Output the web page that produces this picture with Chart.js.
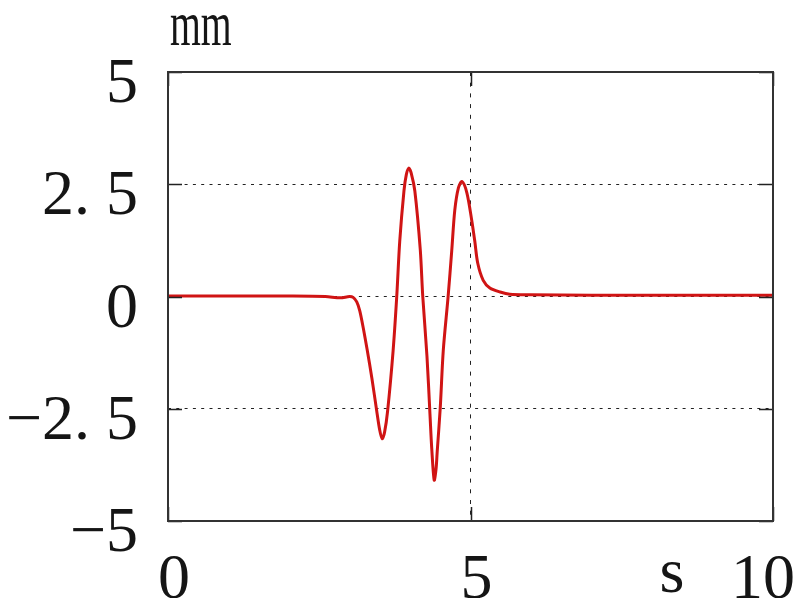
<!DOCTYPE html>
<html>
<head>
<meta charset="utf-8">
<script src="https://cdn.jsdelivr.net/npm/chart.js@4.4.1/dist/chart.umd.min.js"></script>
<style>
  html, body { margin: 0; padding: 0; background: #fff; }
  #wrap { width: 803px; height: 598px; }
</style>
</head>
<body>
<div id="wrap"><canvas id="c" width="803" height="598"></canvas></div>
<script>
// Displacement record (mm) against time (s)
const timeS = [0, 1.0, 2.0, 2.6, 2.85, 3.0, 3.06, 3.12, 3.17, 3.23, 3.29, 3.37, 3.45, 3.50, 3.54, 3.58, 3.63,
  3.72, 3.78, 3.83, 3.90, 3.94, 3.98, 4.02, 4.08, 4.17, 4.21, 4.28, 4.33, 4.36, 4.40, 4.43, 4.45, 4.50,
  4.55, 4.63, 4.69, 4.74, 4.80, 4.86, 4.94, 5.02, 5.07, 5.12, 5.21, 5.32, 5.49, 5.65, 6.0, 7.0, 8.0, 9.0, 10.0];
const displacementMm = [0.01, 0.01, 0.01, 0.0, -0.03, 0.0, -0.02, -0.12, -0.32, -0.72, -1.17, -1.82, -2.55, -2.98, -3.17, -3.02, -2.55,
  -1.22, -0.02, 1.22, 2.35, 2.72, 2.86, 2.75, 2.35, 1.04, 0.02, -1.32, -2.62, -3.40, -4.09, -3.85, -3.45, -2.48,
  -1.20, 0.0, 1.02, 1.92, 2.42, 2.56, 2.31, 1.70, 1.24, 0.74, 0.36, 0.19, 0.10, 0.05, 0.04, 0.03, 0.03, 0.03, 0.03];

// Axis ticks and labels
const xTicks = [0, 5, 10];
const xTickLabels = ['0', '5', '10'];
const yTicks = [-5, -2.5, 0, 2.5, 5];
const yTickLabels = ['\u22125', '\u22122. 5', '0', '2. 5', '5'];
const xTitle = 's';
const yTitle = 'mm';

const FONT = '64px "Liberation Serif", "Times New Roman", serif';

const points = timeS.map((t, i) => ({ x: t, y: displacementMm[i] }));

// Frame, inward tick marks, and all axis text
const framePlugin = {
  id: 'frame',
  afterDatasetsDraw(chart) {
    const { ctx, chartArea: a, scales: { x, y }, width } = chart;
    ctx.save();
    // inward tick marks on every side
    ctx.strokeStyle = '#222';
    ctx.lineWidth = 1.5;
    const tl = 14;
    yTicks.forEach(v => {
      const py = Math.round(y.getPixelForValue(v)) + 0.5;
      ctx.beginPath();
      ctx.moveTo(a.left, py); ctx.lineTo(a.left + tl, py);
      ctx.moveTo(a.right, py); ctx.lineTo(a.right - tl, py);
      ctx.stroke();
    });
    xTicks.forEach(v => {
      const px = Math.round(x.getPixelForValue(v)) + 0.5;
      ctx.beginPath();
      ctx.moveTo(px, a.top); ctx.lineTo(px, a.top + tl);
      ctx.moveTo(px, a.bottom); ctx.lineTo(px, a.bottom - tl);
      ctx.stroke();
    });
    // box
    ctx.lineWidth = 2;
    ctx.strokeStyle = '#333';
    ctx.strokeRect(a.left, a.top, a.right - a.left, a.bottom - a.top);

    // labels
    ctx.fillStyle = '#151515';
    ctx.font = FONT;
    ctx.textBaseline = 'alphabetic';
    ctx.textAlign = 'right';
    yTicks.forEach((v, i) => {
      ctx.fillText(yTickLabels[i], a.left - 30, y.getPixelForValue(v) + 30);
    });
    ctx.textAlign = 'center';
    xTicks.forEach((v, i) => {
      const half = ctx.measureText(xTickLabels[i]).width / 2;
      const cx = Math.min(x.getPixelForValue(v) + 6, width - 8 - half);
      ctx.fillText(xTickLabels[i], cx, a.bottom + 77);
    });
    ctx.fillText(xTitle, a.left + 504, a.bottom + 71);
    // unit label, set in a narrower face
    ctx.save();
    ctx.translate(a.left + 2, a.top - 27);
    ctx.scale(0.62, 1);
    ctx.textAlign = 'left';
    ctx.fillText(yTitle, 0, 0);
    ctx.restore();
    ctx.restore();
  }
};

new Chart(document.getElementById('c'), {
  type: 'line',
  data: {
    datasets: [{
      data: points,
      borderColor: '#d01414',
      borderWidth: 3,
      pointRadius: 0,
      tension: 0.3,
      fill: false
    }]
  },
  options: {
    responsive: false,
    animation: false,
    layout: { padding: { left: 168, top: 72, right: 30, bottom: 77 } },
    plugins: { legend: { display: false }, tooltip: { enabled: false } },
    scales: {
      x: {
        type: 'linear',
        min: 0, max: 10,
        afterBuildTicks: s => { s.ticks = xTicks.map(v => ({ value: v })); },
        afterFit: s => { s.height = 0; },
        ticks: { display: false },
        grid: {
          drawTicks: false,
          lineWidth: 1,
          color: c => (c.tick && (c.tick.value === 0 || c.tick.value === 10)) ? 'rgba(0,0,0,0)' : '#222'
        },
        border: { display: false, dash: [4, 6.7] }
      },
      y: {
        type: 'linear',
        min: -5, max: 5,
        afterBuildTicks: s => { s.ticks = yTicks.map(v => ({ value: v })); },
        afterFit: s => { s.width = 0; },
        ticks: { display: false },
        grid: {
          drawTicks: false,
          lineWidth: 1,
          color: c => (c.tick && (c.tick.value === -5 || c.tick.value === 5)) ? 'rgba(0,0,0,0)' : '#222'
        },
        border: { display: false, dash: [3, 5.3] }
      }
    }
  },
  plugins: [framePlugin]
});
</script>
</body>
</html>
